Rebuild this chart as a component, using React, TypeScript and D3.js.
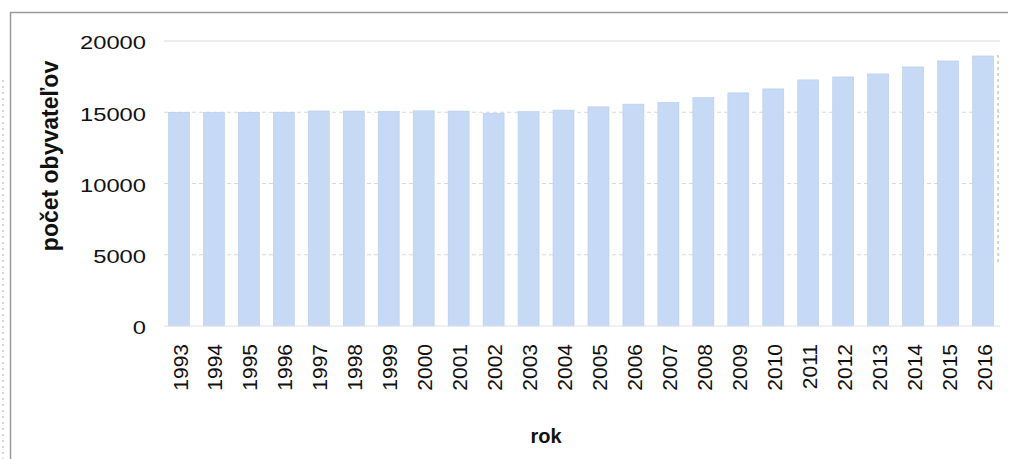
import React from "react";
import * as d3 from "d3";

const years = ["1993","1994","1995","1996","1997","1998","1999","2000","2001","2002","2003","2004","2005","2006","2007","2008","2009","2010","2011","2012","2013","2014","2015","2016"];
const population = [14990,14980,14990,15000,15090,15080,15060,15100,15080,14930,15040,15150,15380,15570,15690,16030,16360,16640,17270,17480,17690,18180,18600,18950];
const yTicks = [0,5000,10000,15000,20000];
const yLabel = "počet obyvateľov";
const xLabel = "rok";

export default function App() {
  const W = 1014, H = 459;
  const x = d3.scaleBand<string>().domain(years).range([158, 1004]).paddingInner(0.4).paddingOuter(0.3);
  const y = d3.scaleLinear().domain([0, 20000]).range([326, 41]);
  const font = "Arial, 'Liberation Sans', sans-serif";
  return (
    <svg width={W} height={H} style={{ position: "absolute", left: 0, top: 0, background: "#fff" }}>
      <rect x={0} y={0} width={W} height={H} fill="#fff" />
      <line x1={10} x2={1008} y1={12.5} y2={12.5} stroke="#9a9a9a" strokeWidth={1.5} />
      <line x1={10.5} x2={10.5} y1={12} y2={459} stroke="#9a9a9a" strokeWidth={1.5} />
      <line x1={3} x2={3} y1={80} y2={459} stroke="#b0b0b0" strokeWidth={1} strokeDasharray="2,4" />
      <line x1={998} x2={998} y1={55} y2={265} stroke="#a8a8c0" strokeWidth={1} strokeDasharray="3,3" />
      {yTicks.map((t) => (
        <g key={t}>
          {t > 0 && (
            <line x1={164} x2={1000} y1={y(t)} y2={y(t)} stroke="#d8d8e0" strokeWidth={1} strokeDasharray={t === 20000 ? undefined : "4,3"} />
          )}
          <g transform={`translate(146,${y(t) + 2}) scale(1.32,1)`}>
            <text x={0} y={0} dy="0.35em" textAnchor="end" fontFamily={font} fontSize={18} fill="#111">{t}</text>
          </g>
        </g>
      ))}
      {years.map((yr, i) => (
        <rect key={yr} x={x(yr)} y={y(population[i])} width={x.bandwidth()} height={y(0) - y(population[i])} fill="#c6daf6" stroke="#b8cbea" strokeWidth={0.6} />
      ))}
      <line x1={164} x2={1000} y1={y(0)} y2={y(0)} stroke="#e2e2ea" strokeWidth={1} />
      {years.map((yr) => (
        <text key={yr} transform={`translate(${(x(yr) as number) + x.bandwidth() / 2 + 1},${344}) rotate(-90)`} dy="0.36em" textAnchor="end" fontFamily={font} fontSize={21} fill="#111">{yr}</text>
      ))}
      <text transform={`translate(58,156) rotate(-90)`} textAnchor="middle" fontFamily={font} fontSize={23} fontWeight="bold" fill="#111">{yLabel}</text>
      <text x={546} y={443} textAnchor="middle" fontFamily={font} fontSize={20} fontWeight="bold" fill="#111">{xLabel}</text>
    </svg>
  );
}
